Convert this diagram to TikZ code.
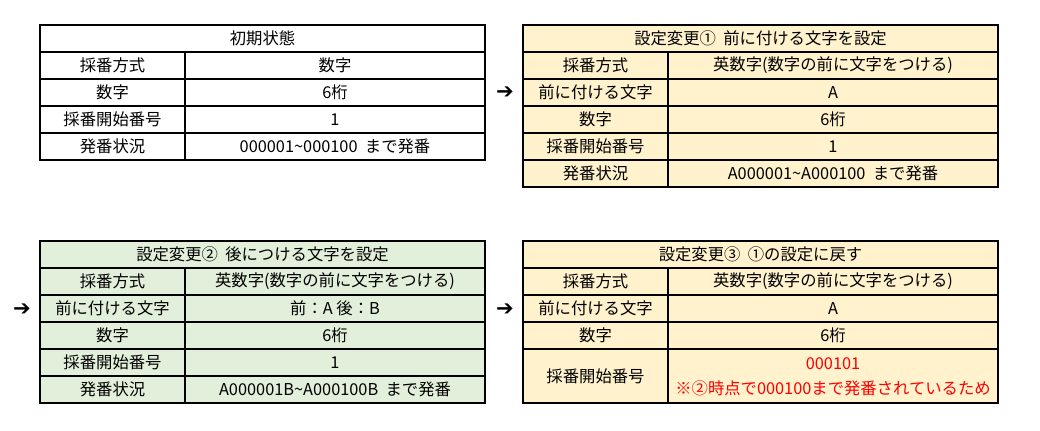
\documentclass[tikz,border=0pt]{standalone}
\usepackage{fontspec}
\setmainfont{Noto Sans CJK JP}
\newfontfamily\symfont{DejaVu Sans}
\definecolor{cellyellow}{HTML}{FFF2CC}
\definecolor{cellgreen}{HTML}{E2EFDA}
\definecolor{notered}{HTML}{FF0000}
\tikzset{
  cell/.style={draw=black, line width=0.6pt},
  txt/.style={font=\fontsize{9.3}{11}\selectfont, inner sep=0pt},
  arr/.style={font=\symfont\bfseries\fontsize{12}{12}\selectfont, inner sep=0pt}
}
% \trow{x0}{xsplit}{x1}{y0}{y1}{left}{right}
\newcommand{\trow}[7]{%
  \draw[cell] (#1,#4) rectangle (#2,#5);
  \draw[cell] (#2,#4) rectangle (#3,#5);
  \node[txt] at ({(#1+#2)/2},{(#4+#5)/2}) {#6};
  \node[txt] at ({(#2+#3)/2},{(#4+#5)/2}) {#7};
}
\newcommand{\thead}[5]{%
  \draw[cell] (#1,#3) rectangle (#2,#4);
  \node[txt] at ({(#1+#2)/2},{(#3+#4)/2}) {#5};
}
\begin{document}
\begin{tikzpicture}[x=0.02cm, y=-0.02cm]
\useasboundingbox (0,0) rectangle (1040,431);

% 初期状態
\thead{40}{485}{25}{52}{初期状態}
\trow{40}{185}{485}{52}{79}{採番方式}{数字}
\trow{40}{185}{485}{79}{106}{数字}{6桁}
\trow{40}{185}{485}{106}{133}{採番開始番号}{1}
\trow{40}{185}{485}{133}{160}{発番状況}{000001\textasciitilde000100\ \ まで発番}

% 設定変更1
\fill[cellyellow] (523,25) rectangle (998,187);
\thead{523}{998}{25}{52}{設定変更①\ \ 前に付ける文字を設定}
\trow{523}{668}{998}{52}{79}{採番方式}{英数字(数字の前に文字をつける)}
\trow{523}{668}{998}{79}{106}{前に付ける文字}{A}
\trow{523}{668}{998}{106}{133}{数字}{6桁}
\trow{523}{668}{998}{133}{160}{採番開始番号}{1}
\trow{523}{668}{998}{160}{187}{発番状況}{A000001\textasciitilde A000100\ \ まで発番}

% 設定変更2
\fill[cellgreen] (40,241) rectangle (485,403);
\thead{40}{485}{241}{268}{設定変更②\ \ 後につける文字を設定}
\trow{40}{185}{485}{268}{295}{採番方式}{英数字(数字の前に文字をつける)}
\trow{40}{185}{485}{295}{322}{前に付ける文字}{前：A 後：B}
\trow{40}{185}{485}{322}{349}{数字}{6桁}
\trow{40}{185}{485}{349}{376}{採番開始番号}{1}
\trow{40}{185}{485}{376}{403}{発番状況}{A000001B\textasciitilde A000100B\ \ まで発番}

% 設定変更3
\fill[cellyellow] (523,241) rectangle (998,403);
\thead{523}{998}{241}{268}{設定変更③\ \ ①の設定に戻す}
\trow{523}{668}{998}{268}{295}{採番方式}{英数字(数字の前に文字をつける)}
\trow{523}{668}{998}{295}{322}{前に付ける文字}{A}
\trow{523}{668}{998}{322}{349}{数字}{6桁}
\trow{523}{668}{998}{349}{403}{採番開始番号}{}
\node[txt, text=notered] at (833,364) {000101};
\node[txt, text=notered] at (833,388) {※②時点で000100まで発番されているため};

% 矢印
\node[arr] (a1) at (505,93) {➔};
\node[arr] (a2) at (22,310) {➔};
\node[arr] (a3) at (505,310) {➔};
\end{tikzpicture}
\end{document}
